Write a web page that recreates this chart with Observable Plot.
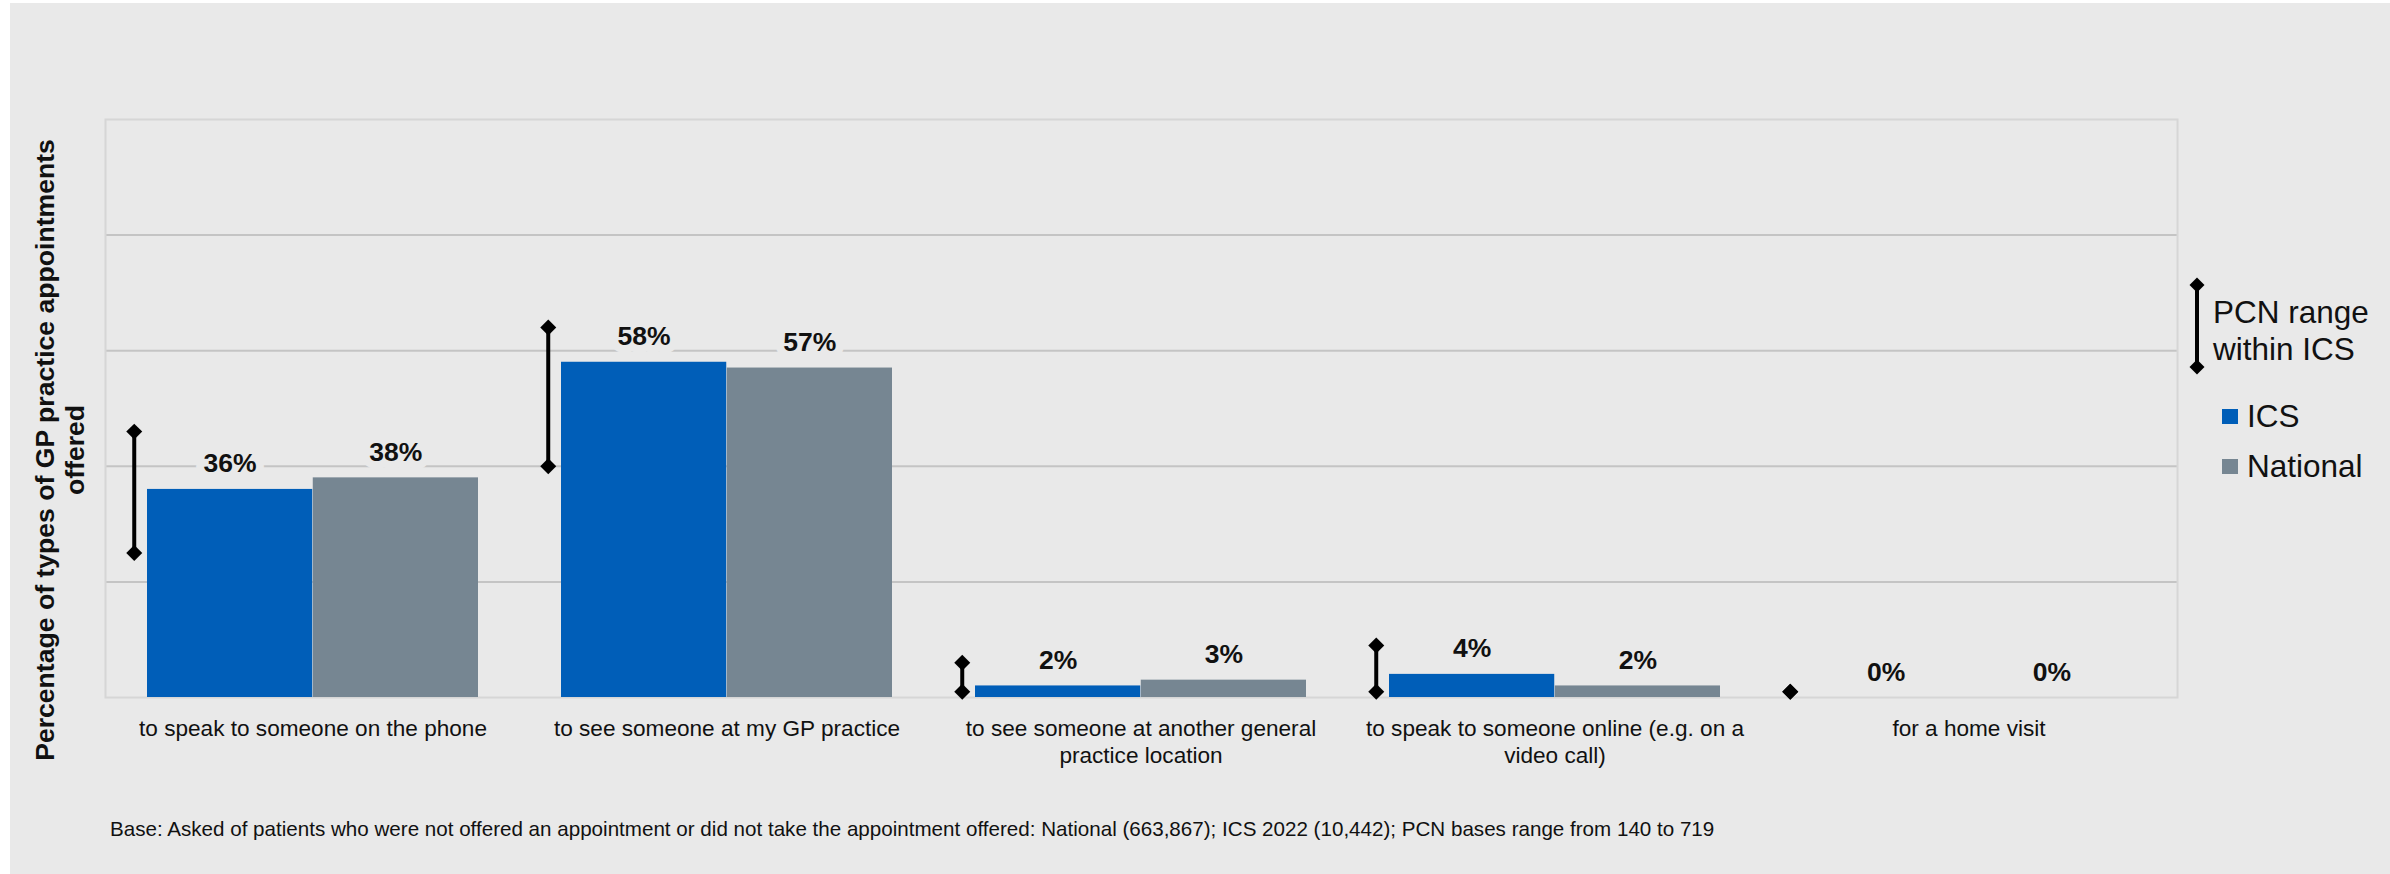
<!DOCTYPE html>
<html>
<head>
<meta charset="utf-8">
<script src="https://cdn.jsdelivr.net/npm/d3@7"></script>
<script src="https://cdn.jsdelivr.net/npm/@observablehq/plot@0.6"></script>
<style>
  html, body { margin: 0; padding: 0; background: #ffffff; }
  #wrap { position: relative; width: 2390px; height: 874px; overflow: hidden;
          font-family: "Liberation Sans", Arial, sans-serif; color: #111; }
  #bg { position: absolute; left: 10px; top: 3px; right: 0; bottom: 0; background: #e9e9e9; }
  #chart { position: absolute; left: 0; top: 0; }
  #ytitle { position: absolute; width: 700px; height: 60px; left: -290.5px; top: 420px;
            transform: rotate(-90deg); transform-origin: 50% 50%;
            text-align: center; font-weight: bold; font-size: 26.6px; line-height: 30px; white-space: nowrap; }
  .leg { position: absolute; font-size: 31.5px; white-space: nowrap; }
  .sw { position: absolute; width: 16px; height: 15px; }
  #foot { position: absolute; left: 110px; top: 817px; font-size: 20.6px; line-height: 24px; white-space: nowrap; }
</style>
</head>
<body>
<div id="wrap">
  <div id="bg"></div>
  <div id="chart"></div>
  <div id="ytitle"></div>
  <div id="legend"></div>
  <div id="foot"></div>
</div>
<script>
// ---- data ----
const categories = [
  "to speak to someone on the phone",
  "to see someone at my GP practice",
  "to see someone at another general practice location",
  "to speak to someone online (e.g. on a video call)",
  "for a home visit"
];
const categoryLines = [
  "to speak to someone on the phone",
  "to see someone at my GP practice",
  "to see someone at another general\npractice location",
  "to speak to someone online (e.g. on a\nvideo call)",
  "for a home visit"
];
const icsValues = [36, 58, 2, 4, 0];
const nationalValues = [38, 57, 3, 2, 0];
const pcnLow = [25, 40, 1, 1, 1];
const pcnHigh = [46, 64, 6, 9, 1];
const gridTicks = [20, 40, 60, 80];
const seriesNames = ["ICS", "National"];
const seriesColors = ["#005EB8", "#768692"];
const yTitleLines = ["Percentage of types of GP practice appointments", "offered"];
const rangeLegendLines = ["PCN range", "within ICS"];
const footnote = "Base: Asked of patients who were not offered an appointment or did not take the appointment offered: National (663,867); ICS 2022 (10,442); PCN bases range from 140 to 719";

// ---- layout ----
const W = 2390, H = 780, ML = 105, MR = 213, MT = 119, MB = 83;
const padInner = 0.2, padOuter = 0.1;
const step = (W - ML - MR) / (categories.length - padInner + 2 * padOuter);
const bw = step * (1 - padInner);
const BG = "#e9e9e9";

const rows = categories.map((c, i) => ({
  cat: c, ics: icsValues[i], national: nationalValues[i], lo: pcnLow[i], hi: pcnHigh[i]
}));
const labelMap = new Map(categories.map((c, i) => [c, categoryLines[i]]));
const whiskerDx = -(bw / 2 + 13);

const labelStyle = {
  fontSize: 26.5, fontWeight: "bold", fill: "#111", lineAnchor: "bottom", dy: -17,
  stroke: BG, strokeWidth: 16, paintOrder: "stroke"
};

const chart = Plot.plot({
  width: W, height: H,
  marginLeft: ML, marginRight: MR, marginTop: MT, marginBottom: MB,
  style: { background: "transparent", fontFamily: "'Liberation Sans', Arial, sans-serif", overflow: "visible" },
  x: { type: "band", domain: categories, paddingInner: padInner, paddingOuter: padOuter },
  y: { domain: [0, 100], axis: null },
  marks: [
    Plot.ruleY(gridTicks, { stroke: "#c4c4c4", strokeWidth: 2 }),
    Plot.frame({ stroke: "#d6d6d6", strokeWidth: 2 }),
    Plot.barY(rows, { x: "cat", y: "ics", fill: seriesColors[0], insetRight: bw / 2 }),
    Plot.barY(rows, { x: "cat", y: "national", fill: seriesColors[1], insetLeft: bw / 2 }),
    Plot.ruleX(rows, { x: "cat", y1: "lo", y2: "hi", dx: whiskerDx, stroke: "#000", strokeWidth: 4 }),
    Plot.dot(rows, { x: "cat", y: "lo", dx: whiskerDx, symbol: "diamond2", r: 7.2, fill: "#000", stroke: "none" }),
    Plot.dot(rows, { x: "cat", y: "hi", dx: whiskerDx, symbol: "diamond2", r: 7.2, fill: "#000", stroke: "none" }),
    Plot.text(rows, { x: "cat", y: "ics", dx: -bw / 4, text: d => d.ics + "%", ...labelStyle }),
    Plot.text(rows, { x: "cat", y: "national", dx: bw / 4, text: d => d.national + "%", ...labelStyle }),
    Plot.axisX({ tickSize: 0, tickPadding: 19, fontSize: 22.6, lineHeight: 1.2, fill: "#111",
                 label: null, tickFormat: c => labelMap.get(c) })
  ]
});
document.getElementById("chart").appendChild(chart);

// ---- y title ----
document.getElementById("ytitle").innerHTML = yTitleLines.join("<br>");

// ---- legend ----
const leg = document.getElementById("legend");
const NS = "http://www.w3.org/2000/svg";
const icon = document.createElementNS(NS, "svg");
icon.setAttribute("width", 20); icon.setAttribute("height", 100);
icon.style.position = "absolute"; icon.style.left = "2187px"; icon.style.top = "276px";
const yTop = 9, yBot = 91, cx = 10, hd = 7.5;
const ln = document.createElementNS(NS, "line");
ln.setAttribute("x1", cx); ln.setAttribute("x2", cx); ln.setAttribute("y1", yTop); ln.setAttribute("y2", yBot);
ln.setAttribute("stroke", "#000"); ln.setAttribute("stroke-width", 4);
icon.appendChild(ln);
[yTop, yBot].forEach(yy => {
  const p = document.createElementNS(NS, "polygon");
  p.setAttribute("points", `${cx},${yy - hd} ${cx + hd},${yy} ${cx},${yy + hd} ${cx - hd},${yy}`);
  p.setAttribute("fill", "#000");
  icon.appendChild(p);
});
leg.appendChild(icon);

const rangeText = document.createElement("div");
rangeText.className = "leg";
rangeText.style.left = "2213px"; rangeText.style.top = "293.5px"; rangeText.style.lineHeight = "37px";
rangeText.innerHTML = rangeLegendLines.join("<br>");
leg.appendChild(rangeText);

const swTops = [409, 459];
const txtTops = [398, 448];
seriesNames.forEach((name, i) => {
  const sw = document.createElement("div");
  sw.className = "sw"; sw.style.left = "2222px"; sw.style.top = swTops[i] + "px";
  sw.style.background = seriesColors[i];
  leg.appendChild(sw);
  const t = document.createElement("div");
  t.className = "leg"; t.style.left = "2247px"; t.style.top = txtTops[i] + "px"; t.style.lineHeight = "36px";
  t.textContent = name;
  leg.appendChild(t);
});

// ---- footnote ----
document.getElementById("foot").textContent = footnote;
</script>
</body>
</html>
